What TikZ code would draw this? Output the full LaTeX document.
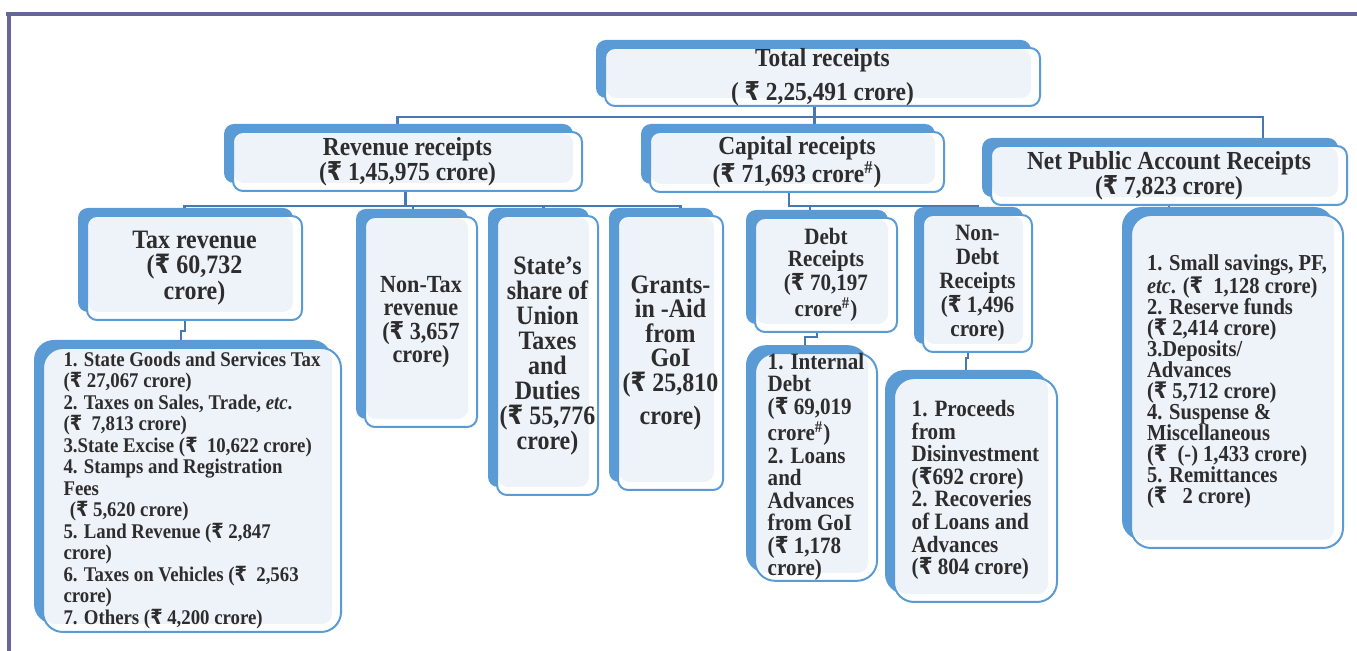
\documentclass[tikz,border=0pt]{standalone}
\usepackage{fontspec}
\setmainfont{Liberation Serif}[FakeStretch=0.9]
\newfontfamily\rupfont{DejaVu Sans}[FakeStretch=0.85]
\usetikzlibrary{shadows,backgrounds}

\definecolor{boxblue}{RGB}{91,155,213}
\definecolor{boxlight}{RGB}{238,243,250}
\definecolor{connblue}{RGB}{70,120,180}
\definecolor{framepurple}{RGB}{102,102,153}
\definecolor{textgray}{RGB}{45,45,45}

\newcommand{\bxfont}[2]{\fontsize{#1}{#2}\selectfont\bfseries}
\newcommand{\Rs}{{\rupfont ₹}}

\tikzset{
    rbox/.style={draw=boxblue, line width=1pt, fill=white, rounded corners=5pt,
        inner sep=0pt, align=center, text=textgray,
        general shadow={fill=boxblue, draw=none, shadow xshift=-4.5pt, shadow yshift=4pt},
        path picture={\fill[boxlight, rounded corners=5pt]
            ([xshift=-4.5pt,yshift=4pt]path picture bounding box.south east)
            rectangle ([xshift=0.6pt,yshift=-0.6pt]path picture bounding box.north west);}},
    listbox/.style={rbox, rounded corners=10pt, align=left},
    conn/.style={draw=connblue, line width=1.2pt}
}

\begin{document}
\begin{tikzpicture}[x=0.5pt, y=-0.5pt]
    \useasboundingbox (0,0) rectangle (1357,651);

    % frame
    \draw[framepurple, line width=2pt] (6,14.5) -- (1357,14.5);
    \draw[framepurple, line width=2pt] (8.5,13.5) -- (8.5,651);

    % first level
    \node[rbox, minimum width=217.5pt, minimum height=29pt, font={\bxfont{13}{17}}]
        (total) at (822.5,77) {Total receipts\\( \Rs{} 2,25,491 crore)};
    \node[rbox, minimum width=174.5pt, minimum height=29.5pt, font={\bxfont{13}{12.5}}]
        (rev) at (407.5,161.5) {Revenue receipts\\(\Rs{} 1,45,975 crore)};
    \node[rbox, minimum width=147pt, minimum height=30pt, font={\bxfont{13}{11.5}}]
        (cap) at (797,162) {Capital receipts\\(\Rs{} 71,693 crore\textsuperscript{\#})};
    \node[rbox, minimum width=178pt, minimum height=29.5pt, font={\bxfont{13}{12.5}}]
        (net) at (1169,175.5) {Net Public Account Receipts\\(\Rs{} 7,823 crore)};

    % revenue side
    \node[rbox, minimum width=107.5pt, minimum height=52pt, font={\bxfont{13.3}{12.75}}]
        (tax) at (194.5,268) {Tax revenue\\(\Rs{} 60,732\\crore)};
    \node[rbox, minimum width=56pt, minimum height=105pt, font={\bxfont{12.3}{11.75}}]
        (nontax) at (421,322) {Non-Tax\\revenue\\(\Rs{} 3,657\\crore)};
    \node[rbox, minimum width=50.5pt, minimum height=139.5pt, font={\bxfont{13.3}{12.5}}]
        (share) at (547.5,355.5) {State’s\\share of\\Union\\Taxes\\and\\Duties\\(\Rs{} 55,776\\crore)};
    \node[rbox, minimum width=52.5pt, minimum height=137pt, font={\bxfont{13.3}{12.25}}]
        (grants) at (670.5,353) {Grants-\\in -Aid\\from\\GoI\\(\Rs{} 25,810\\[4.25pt]crore)};
    \node[listbox, minimum width=149pt, minimum height=142pt, font={\bxfont{10.45}{10.75}}]
        (taxlist) at (192,490) {1. State Goods and Services Tax\\(\Rs{} 27,067 crore)\\
        2. Taxes on Sales, Trade, \textit{etc}.\\(\Rs{}~ 7,813 crore)\\
        3.State Excise (\Rs{}~ 10,622 crore)\\4. Stamps and Registration\\Fees\\
        \hspace{0.3em}(\Rs{} 5,620 crore)\\5. Land Revenue (\Rs{} 2,847\\crore)\\
        6. Taxes on Vehicles (\Rs{}~ 2,563\\crore)\\7. Others (\Rs{} 4,200 crore)};

    % capital side
    \node[rbox, minimum width=71pt, minimum height=57pt, font={\bxfont{11.7}{11}}]
        (debt) at (826,275) {Debt\\Receipts\\(\Rs{} 70,197\\crore\textsuperscript{\#})};
    \node[rbox, minimum width=54.5pt, minimum height=68.5pt, font={\bxfont{11.7}{12}}]
        (nondebt) at (977.5,283.5) {Non-\\Debt\\Receipts\\(\Rs{} 1,496\\crore)};
    \node[listbox, minimum width=61pt, minimum height=113pt, font={\bxfont{11.7}{11.25}}]
        (debtlist) at (816,467) {1. Internal\\Debt\\(\Rs{} 69,019\\crore\textsuperscript{\#})\\
        2. Loans\\and\\Advances\\from GoI\\(\Rs{} 1,178\\crore)};
    \node[listbox, minimum width=81.5pt, minimum height=112pt, font={\bxfont{11.7}{11.3}}]
        (nondebtlist) at (975.5,490) {1. Proceeds\\from\\Disinvestment\\(\Rs{}692 crore)\\
        2. Recoveries\\of Loans and\\Advances\\(\Rs{} 804 crore)};

    % public account side
    \node[listbox, minimum width=106pt, minimum height=166.5pt, font={\bxfont{11.4}{10.5}}]
        (netlist) at (1237,381.5) {1. Small savings, PF,\\\textit{etc}. (\Rs{}~ 1,128 crore)\\
        2. Reserve funds\\(\Rs{} 2,414 crore)\\3.Deposits/\\Advances\\(\Rs{} 5,712 crore)\\
        4. Suspense \&\\Miscellaneous\\(\Rs{}~ (-) 1,433 crore)\\5. Remittances\\(\Rs{}~~ 2 crore)};

    % connectors
    \begin{pgfonlayer}{background}
        \draw[conn] ([xshift=-4pt]total.south) -- ++(0,10) -| ([xshift=-5pt]rev.north);
        \draw[conn] ([xshift=-4pt]total.south) -- ([xshift=-4pt]total.south |- cap.north);
        \draw[conn] ([xshift=-4pt]total.south) -- ++(0,10) -| ([xshift=47pt]net.north);

        \draw[conn] ([xshift=-1pt]rev.south) -- ++(0,14) -| ([xshift=-5pt]tax.north);
        \draw[conn] ([xshift=-1pt]rev.south) -- ++(0,14) -| ([xshift=-4pt]nontax.north);
        \draw[conn] ([xshift=-1pt]rev.south) -- ++(0,14) -| ([xshift=-2pt]share.north);
        \draw[conn] ([xshift=-1pt]rev.south) -- ++(0,14) -| ([xshift=5pt]grants.north);

        \draw[conn] ([xshift=-4pt]cap.south) -- ++(0,13) -| ([xshift=-8pt]debt.north);
        \draw[conn] ([xshift=-4pt]cap.south) -- ++(0,13) -| (nondebt.north);
        \draw[conn] (net.south) -- (net.south |- netlist.north);

        \draw[conn] ([xshift=-4.75pt]tax.south) -- ++(0,10) -| ([xshift=-5.5pt]taxlist.north);
        \draw[conn] ([xshift=-4.5pt]debt.south) -- ++(0,4) -| ([xshift=-5.5pt]debtlist.north);
        \draw[conn] ([xshift=-4.75pt]nondebt.south) -- ++(0,5) -| ([xshift=-4.75pt]nondebtlist.north);
    \end{pgfonlayer}
\end{tikzpicture}
\end{document}
